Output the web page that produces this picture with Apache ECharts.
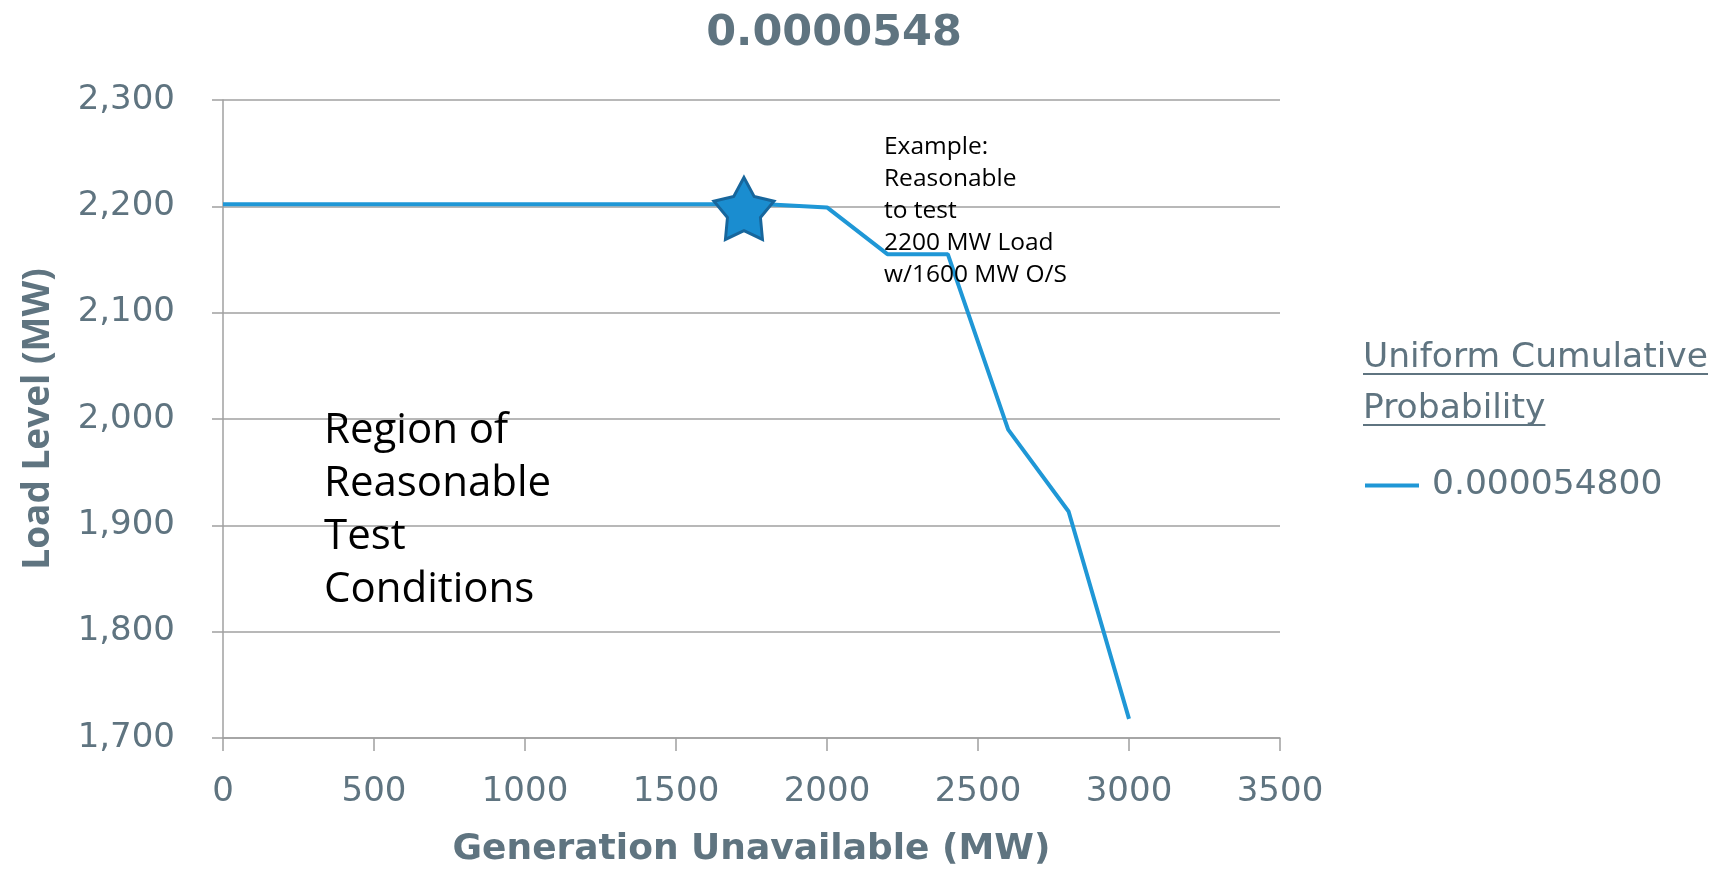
<!DOCTYPE html>
<html>
<head>
<meta charset="utf-8">
<script src="https://cdn.jsdelivr.net/npm/echarts@6/dist/echarts.min.js"></script>
<style>
  html, body { margin: 0; padding: 0; background: #ffffff; }
  #chart { width: 1727px; height: 869px; }
</style>
</head>
<body>
<div id="chart"></div>
<script>
// Chart text
const chartTitle = '0.0000548';
const xAxisTitle = 'Generation Unavailable (MW)';
const yAxisTitle = 'Load Level (MW)';
const legendTitle = ['Uniform Cumulative', 'Probability'];
const seriesName = '0.000054800';
const exampleNote = ['Example:', 'Reasonable', 'to test', '2200 MW Load', 'w/1600 MW O/S'];
const regionNote = ['Region of', 'Reasonable', 'Test', 'Conditions'];

// Load level (MW) against generation unavailable (MW)
const genUnavailable = [0, 200, 400, 600, 800, 1000, 1200, 1400, 1600, 1800, 2000, 2200, 2400, 2600, 2800, 3000];
const loadLevel      = [2202, 2202, 2202, 2202, 2202, 2202, 2202, 2202, 2202, 2202, 2199, 2155, 2155, 1990, 1913, 1718];

// Highlighted test point (star marker)
const starPoint = [1725, 2198];

// Axis ranges
const xRange = [0, 3500, 500];
const yRange = [1700, 2300, 100];

const GRAY_TEXT = '#5f7480';
const GRID_GRAY = '#a0a0a0';
const LINE_BLUE = '#1f97d6';

// Five-pointed star outline (chunky body)
const STAR_PATH = 'path://M50 0 L66.16 27.75 L97.55 34.55 L76.15 58.5 L79.39 90.45 L50 77.5 L20.61 90.45 L23.85 58.5 L2.45 34.55 L33.84 27.75 Z';

// Widths for the underlined legend heading
const LEGEND_FONT_SIZE = 34.5;
const measure = document.createElement('canvas').getContext('2d');
measure.font = LEGEND_FONT_SIZE + 'px "DejaVu Sans"';
const underlineWidths = legendTitle.map(t => measure.measureText(t).width);

const chart = echarts.init(document.getElementById('chart'), null, { renderer: 'canvas' });

chart.setOption({
  animation: false,
  backgroundColor: '#ffffff',
  title: {
    text: chartTitle,
    left: 829,
    top: 7,
    textAlign: 'center',
    textStyle: { fontFamily: 'DejaVu Sans', fontWeight: 'bold', fontSize: 43, color: GRAY_TEXT }
  },
  grid: { left: 223, top: 100, width: 1057, height: 638, containLabel: false, outerBoundsMode: 'none' },
  legend: {
    data: [seriesName],
    left: 1365,
    top: 468,
    padding: 0,
    icon: 'rect',
    itemWidth: 54,
    itemHeight: 4,
    textStyle: { fontFamily: 'DejaVu Sans', fontSize: LEGEND_FONT_SIZE, color: GRAY_TEXT, padding: [0, 0, 0, 8] }
  },
  xAxis: {
    type: 'value',
    min: xRange[0],
    max: xRange[1],
    interval: xRange[2],
    name: xAxisTitle,
    nameLocation: 'middle',
    nameGap: 94,
    nameTextStyle: { fontFamily: 'DejaVu Sans', fontWeight: 'bold', fontSize: 36, color: GRAY_TEXT },
    axisLine: { show: true, lineStyle: { color: GRID_GRAY, width: 1.5 } },
    axisTick: { show: true, inside: false, length: 13, lineStyle: { color: GRID_GRAY, width: 1.5 } },
    axisLabel: {
      margin: 37,
      fontFamily: 'DejaVu Sans',
      fontSize: 34,
      color: GRAY_TEXT,
      formatter: v => String(v)
    },
    splitLine: { show: false }
  },
  yAxis: {
    type: 'value',
    min: yRange[0],
    max: yRange[1],
    interval: yRange[2],
    name: yAxisTitle,
    nameLocation: 'middle',
    nameGap: 166,
    nameTextStyle: { fontFamily: 'Open Sans', fontWeight: 'bold', fontSize: 37, color: GRAY_TEXT },
    axisLine: { show: true, lineStyle: { color: GRID_GRAY, width: 1.5 } },
    axisTick: { show: true, inside: false, length: 11, lineStyle: { color: GRID_GRAY, width: 1.5 } },
    axisLabel: {
      margin: 48,
      fontFamily: 'DejaVu Sans',
      fontSize: 34,
      color: GRAY_TEXT,
      formatter: v => v.toLocaleString('en-US')
    },
    splitLine: { show: true, lineStyle: { color: GRID_GRAY, width: 1.5 } }
  },
  series: [
    {
      name: seriesName,
      type: 'line',
      data: genUnavailable.map((x, i) => [x, loadLevel[i]]),
      symbol: 'none',
      lineStyle: { color: LINE_BLUE, width: 4 },
      itemStyle: { color: LINE_BLUE },
      z: 2
    },
    {
      name: 'Test point',
      type: 'scatter',
      data: [starPoint],
      symbol: STAR_PATH,
      symbolSize: [60, 62],
      itemStyle: { color: '#1a8dd0', borderColor: '#17669c', borderWidth: 3, opacity: 1 },
      z: 3
    }
  ],
  graphic: [
    {
      type: 'text', left: 884, top: 131, z: 100,
      style: { text: exampleNote.join('\n'), fontFamily: 'Open Sans', fontSize: 24.5, lineHeight: 32, fill: '#000000' }
    },
    {
      type: 'text', left: 324, top: 405, z: 100,
      style: { text: regionNote.join('\n'), fontFamily: 'Open Sans', fontSize: 42, lineHeight: 53, fill: '#000000' }
    },
    {
      type: 'text', left: 1363, top: 333, z: 100,
      style: { text: legendTitle.join('\n'), fontFamily: 'DejaVu Sans', fontSize: LEGEND_FONT_SIZE, lineHeight: 51, fill: GRAY_TEXT }
    },
    {
      type: 'line', z: 100,
      shape: { x1: 1363, y1: 374, x2: 1363 + underlineWidths[0], y2: 374 },
      style: { stroke: GRAY_TEXT, lineWidth: 2 }
    },
    {
      type: 'line', z: 100,
      shape: { x1: 1363, y1: 425, x2: 1363 + underlineWidths[1], y2: 425 },
      style: { stroke: GRAY_TEXT, lineWidth: 2 }
    }
  ]
});
</script>
</body>
</html>
